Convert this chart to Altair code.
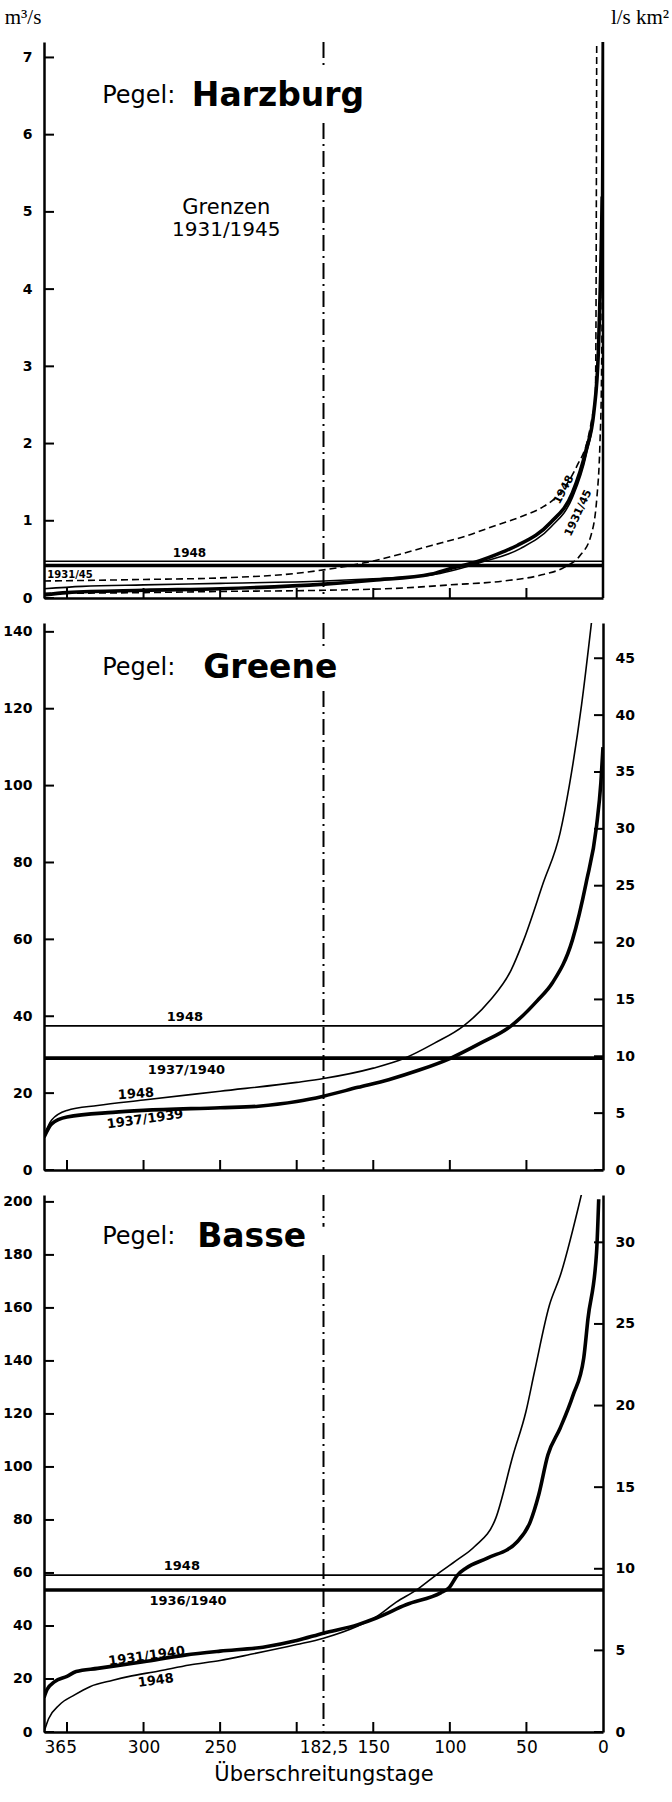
import altair as alt
import pandas as pd

# ------------------------------------------------------------------
# Values
# ------------------------------------------------------------------
# Pegel Harzburg (m3/s)
harz_upper_days = [365, 330, 300, 250, 200, 150, 112, 90, 70, 50, 40, 28, 17, 10, 7, 5, 4.6, 4.3, 4.1]
harz_upper_vals = [0.22, 0.23, 0.24, 0.26, 0.32, 0.48, 0.68, 0.80, 0.94, 1.08, 1.17, 1.36, 1.71, 2.05, 2.35, 2.6, 3.5, 5.5, 7.3]
harz_lower_days = [365, 300, 250, 182, 130, 100, 65, 40, 25, 15, 8, 4, 2, 1, 0.4, 0]
harz_lower_vals = [0.06, 0.07, 0.085, 0.10, 0.13, 0.17, 0.22, 0.30, 0.40, 0.55, 0.80, 1.30, 2.0, 2.8, 4.0, 4.6]
harz_mean_days = [365, 350, 300, 250, 182, 150, 112, 100, 84, 65, 56, 34, 20, 11, 6, 3, 1.5, 0.5]
harz_mean_vals = [0.04, 0.07, 0.10, 0.12, 0.18, 0.23, 0.31, 0.38, 0.46, 0.60, 0.68, 0.98, 1.36, 1.92, 2.4, 3.2, 4.2, 5.2]
harz_1948_days = [365, 340, 300, 250, 182, 150, 112, 80, 54, 34, 20, 11, 6, 3, 1, 0.4]
harz_1948_vals = [0.12, 0.15, 0.17, 0.19, 0.22, 0.25, 0.30, 0.46, 0.64, 0.92, 1.30, 1.85, 2.4, 3.3, 4.8, 7.3]
harz_mq_1948 = [0.475]
harz_mq_3145 = [0.42]

# Pegel Greene (m3/s)
greene_1948_days = [365, 360, 350, 330, 300, 250, 200, 182.5, 150, 130, 110, 91, 74, 60, 52, 39, 28, 22, 14, 7.5]
greene_1948_vals = [9, 13, 15.5, 16.8, 18.2, 20.5, 22.8, 23.8, 26.5, 29, 33, 37.5, 44, 52, 59.6, 74.7, 87.7, 100, 121, 142.5]
greene_3739_days = [365, 360, 350, 320, 300, 250, 225, 200, 182.5, 160, 140, 120, 100, 80, 60, 43, 33, 20, 11, 4.2, 1.4, 0]
greene_3739_vals = [8.5, 12, 13.8, 15, 15.5, 16.2, 16.6, 17.8, 19.2, 21.5, 23.5, 26, 29, 33, 37.5, 44, 48.7, 59.8, 74.7, 89.5, 100.7, 110]
greene_mq_1948 = [37.5]
greene_mq_3740 = [29.1]

# Pegel Basse (m3/s)
basse_1948_days = [365, 362, 355, 345, 335, 320, 310, 290, 270, 250, 230, 200, 182.5, 160, 148, 135, 121.7, 109, 95, 84, 70, 58.7, 50.3, 44.7, 35, 28, 14]
basse_1948_vals = [0, 5, 10.2, 14, 17.1, 19.5, 20.9, 23, 25.3, 27, 29.3, 33, 35.4, 40, 43.5, 49, 53.6, 59.2, 65, 69.9, 80.7, 104.5, 120.9, 136, 161, 172, 203]
basse_3140_days = [365, 363, 358, 350, 344, 330, 300, 273, 250, 222, 200, 182.5, 160, 148, 128.6, 106, 100.7, 95, 89.5, 75.5, 56, 47.5, 42, 36, 28, 19.6, 12.6, 9.8, 4.2, 2.8]
basse_3140_vals = [13, 16, 19, 21, 22.8, 24, 26.5, 29, 30.5, 32, 34.5, 37.3, 40.5, 43, 48, 52.5, 54.3, 59.2, 61.8, 65.6, 71.8, 79.3, 89.4, 104.5, 114.6, 127, 141, 156, 181, 201]
basse_mq_1948 = [59.2]
basse_mq_3640 = [53.6]

# Axis ticks / labels
x_inner_ticks = [350, 300, 250, 200, 150, 100, 50]
x_label_values = [365, 300, 250, 182.5, 150, 100, 50, 0]
harz_y_ticks = [0, 1, 2, 3, 4, 5, 6, 7]
greene_y_ticks = [0, 20, 40, 60, 80, 100, 120, 140]
greene_r_ticks = [0, 5, 10, 15, 20, 25, 30, 35, 40, 45]
basse_y_ticks = [0, 20, 40, 60, 80, 100, 120, 140, 160, 180, 200]
basse_r_ticks = [0, 5, 10, 15, 20, 25, 30]

# ------------------------------------------------------------------
# Layout / style
# ------------------------------------------------------------------
W = 559
H1, H2, H3 = 556, 547, 537
Y1_DOM = [0, 7.2]
Y2_DOM = [0, 142.3]
R2_DOM = [0, 48.1]
Y3_DOM = [0, 202.6]
R3_DOM = [0, 32.9]

NUM_FONT = 'DejaVu Sans'
TXT_FONT = 'DejaVu Sans'
SERIF = 'Liberation Serif'
THIN = 1.6
THICK = 3.6
DASH = [7, 4]
DASHDOT = [16, 5, 2, 5]

XSC = alt.Scale(domain=[0, 365], reverse=True, nice=False, zero=False)


def x_enc(bottom, field='day'):
    if bottom:
        ax = alt.Axis(values=x_label_values,
                      labelExpr="datum.value == 182.5 ? '182,5' : format(datum.value, 'd')",
                      ticks=False, tickSize=0, domain=True, domainColor='black',
                      domainWidth=2.5, grid=False, labelFont=NUM_FONT, labelFontSize=17,
                      labelColor='black', labelPadding=7, labelFlush=False,
                      labelAlign={'expr': "datum.value == 365 ? 'left' : 'center'"},
                      titleFont=TXT_FONT, titleFontSize=21, titleFontWeight='normal',
                      titleColor='black', titlePadding=8)
        return alt.X(f'{field}:Q', scale=XSC, axis=ax, title='Überschreitungstage')
    ax = alt.Axis(labels=False, ticks=False, tickSize=0, domain=True, domainColor='black',
                  domainWidth=2.5, grid=False)
    return alt.X(f'{field}:Q', scale=XSC, axis=ax, title=None)


def y_enc(field, dom, values, orient='left'):
    ax = alt.Axis(values=values, orient=orient, ticks=False, tickSize=0, domain=True,
                  domainColor='black', domainWidth=2.5, grid=False, labelFont=NUM_FONT,
                  labelFontSize=14, labelFontWeight='bold', labelColor='black', labelPadding=12)
    return alt.Y(f'{field}:Q', scale=alt.Scale(domain=dom, nice=False, zero=False), axis=ax, title=None)


def curve(days, vals, bottom, dom, yt, width, dash=None):
    df = pd.DataFrame({'day': days, 'v': vals})
    kw = dict(color='black', strokeWidth=width, clip=True, interpolate='monotone')
    if dash:
        kw['strokeDash'] = dash
    return alt.Chart(df).mark_line(**kw).encode(
        x=x_enc(bottom), y=y_enc('v', dom, yt),
        order=alt.Order('day:Q', sort='descending'))


def hline(vals, bottom, dom, yt, width):
    df = pd.DataFrame({'v': vals})
    return alt.Chart(df).mark_rule(color='black', strokeWidth=width).encode(y=y_enc('v', dom, yt))


def dashdot(segments, bottom, dom, yt):
    df = pd.DataFrame({'day': [182.5] * len(segments),
                       'v': [s[0] for s in segments], 'v2': [s[1] for s in segments]})
    return alt.Chart(df).mark_rule(color='black', strokeWidth=2, strokeDash=DASHDOT).encode(
        x=x_enc(bottom), y=y_enc('v', dom, yt), y2=alt.Y2('v2:Q'))


def label(text, day, v, bottom, dom, yt, size=13, weight='bold', angle=0, align='center',
          font=TXT_FONT, dx=0, dy=0):
    df = pd.DataFrame({'day': [day], 'v': [v], 't': [text]})
    kw = dict(color='black', font=font, fontSize=size, fontWeight=weight, align=align,
              baseline='middle')
    if angle:
        kw['angle'] = angle
    if dx:
        kw['dx'] = dx
    if dy:
        kw['dy'] = dy
    return alt.Chart(df).mark_text(**kw).encode(x=x_enc(bottom), y=y_enc('v', dom, yt), text='t:N')


def inner_ticks(bottom, dom, yt):
    dfx = pd.DataFrame({'day': x_inner_ticks, 'v': [dom[0]] * len(x_inner_ticks)})
    dfy = pd.DataFrame({'day': [365] * len(yt), 'v': yt})
    tx = alt.Chart(dfx).mark_tick(orient='vertical', size=10, thickness=2, color='black',
                                  opacity=1, yOffset=-5).encode(x=x_enc(bottom), y=y_enc('v', dom, yt))
    ty = alt.Chart(dfy).mark_tick(orient='horizontal', size=10, thickness=2, color='black',
                                  opacity=1, xOffset=5).encode(x=x_enc(bottom), y=y_enc('v', dom, yt))
    return [tx, ty]


def right_axis(bottom, rdom, rt):
    df = pd.DataFrame({'day': [0] * len(rt), 'r': rt})
    return alt.Chart(df).mark_tick(orient='horizontal', size=9, thickness=2, color='black',
                                   opacity=1, xOffset=-4.5).encode(
        x=x_enc(bottom), y=y_enc('r', rdom, rt, orient='right'))


def pegel(name, day_p, day_n, v, bottom, dom, yt):
    return [label('Pegel:', day_p, v, bottom, dom, yt, size=24, weight='normal', align='left'),
            label(name, day_n, v, bottom, dom, yt, size=33, weight='bold', align='left')]


# ---------------- Panel 1: Harzburg ----------------
b = False
d, t = Y1_DOM, harz_y_ticks
p1_layers = [
    hline(harz_mq_1948, b, d, t, THIN),
    hline(harz_mq_3145, b, d, t, THICK),
    curve(harz_upper_days, harz_upper_vals, b, d, t, THIN, DASH),
    curve(harz_lower_days, harz_lower_vals, b, d, t, THIN, DASH),
    curve(harz_1948_days, harz_1948_vals, b, d, t, THIN),
    curve(harz_mean_days, harz_mean_vals, b, d, t, THICK),
    dashdot([(7.2, 6.9), (6.15, 0)], b, d, t),
    alt.Chart(pd.DataFrame({'day': [0]})).mark_rule(color='black', strokeWidth=2.5).encode(x=x_enc(b)),
    *inner_ticks(b, d, t),
    *pegel('Harzburg', 327, 268.5, 6.5, b, d, t),
    label('Grenzen', 246, 5.05, b, d, t, size=21, weight='normal'),
    label('1931/1945', 246, 4.77, b, d, t, size=20, weight='normal'),
    label('1948', 270, 0.58, b, d, t, size=12),
    label('1931/45', 348, 0.30, b, d, t, size=10),
    label('1948', 25.5, 1.40, b, d, t, size=11, angle=298),
    label('1931/45', 16, 1.10, b, d, t, size=11, angle=295),
    label('m³/s', 365, 7.2, b, d, t, size=21, weight='normal', font=SERIF, dx=-21, dy=-24),
    label('l/s km²', 0, 7.2, b, d, t, size=21, weight='normal', font=SERIF, dx=37, dy=-24),
]
p1 = alt.layer(*p1_layers).properties(width=W, height=H1)

# ---------------- Panel 2: Greene ----------------
d, t = Y2_DOM, greene_y_ticks
p2_left = alt.layer(
    hline(greene_mq_1948, b, d, t, THIN),
    hline(greene_mq_3740, b, d, t, THICK),
    curve(greene_1948_days, greene_1948_vals, b, d, t, THIN),
    curve(greene_3739_days, greene_3739_vals, b, d, t, THICK),
    dashdot([(142.3, 135.8), (124.6, 0)], b, d, t),
    *inner_ticks(b, d, t),
    *pegel('Greene', 327, 261, 130.6, b, d, t),
    label('1948', 273, 39.8, b, d, t),
    label('1937/1940', 272, 26.0, b, d, t),
    label('1948', 305, 19.8, b, d, t, angle=356),
    label('1937/1939', 299, 13.2, b, d, t, angle=352),
)
p2 = alt.layer(p2_left, right_axis(b, R2_DOM, greene_r_ticks)).resolve_scale(
    y='independent').properties(width=W, height=H2)

# ---------------- Panel 3: Basse ----------------
b = True
d, t = Y3_DOM, basse_y_ticks
p3_left = alt.layer(
    hline(basse_mq_1948, b, d, t, THIN),
    hline(basse_mq_3640, b, d, t, THICK),
    curve(basse_1948_days, basse_1948_vals, b, d, t, THIN),
    curve(basse_3140_days, basse_3140_vals, b, d, t, THICK),
    dashdot([(202.6, 190.6), (180, 0)], b, d, t),
    *inner_ticks(b, d, t),
    *pegel('Basse', 327, 265, 186.8, b, d, t),
    label('1948', 275, 62.8, b, d, t),
    label('1936/1940', 271, 49.6, b, d, t),
    label('1931/1940', 298, 28.6, b, d, t, angle=352),
    label('1948', 292, 19.4, b, d, t, angle=352),
)
p3 = alt.layer(p3_left, right_axis(b, R3_DOM, basse_r_ticks)).resolve_scale(
    y='independent').properties(width=W, height=H3)

chart = alt.vconcat(p1, p2, p3, spacing=17).properties(
    padding={'left': 2, 'top': 7, 'right': 0, 'bottom': 2},
    background='white',
).configure_view(stroke=None)

chart.save('out.html', embed_options={'renderer': 'svg', 'actions': False})
